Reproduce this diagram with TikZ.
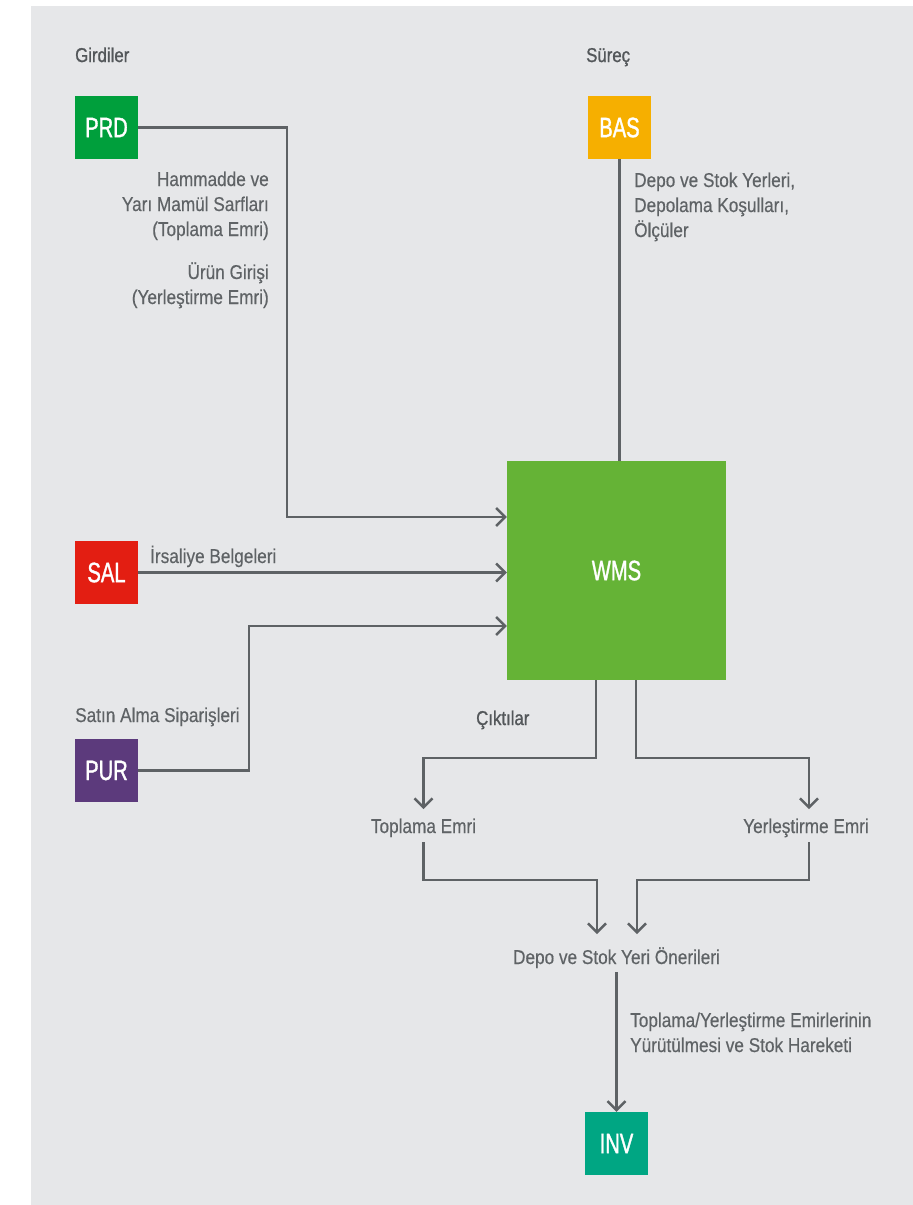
\documentclass[tikz,border=0pt]{standalone}
\usepackage{fontspec}
\setmainfont[FakeStretch=0.86, FakeBold=0.4]{Liberation Sans}
\newfontfamily\headfont[FakeStretch=0.84, FakeBold=1.0]{Liberation Sans}
\newfontfamily\boxfont[FakeStretch=0.72, FakeBold=1.2]{Liberation Sans}
\usetikzlibrary{arrows.meta}
\definecolor{bgcol}{HTML}{E6E7E9}
\definecolor{linecol}{HTML}{5E6265}
\definecolor{txtcol}{HTML}{5F6366}
\definecolor{headcol}{HTML}{53575A}
\definecolor{prdcol}{HTML}{009F3C}
\definecolor{bascol}{HTML}{F6AF00}
\definecolor{salcol}{HTML}{E31E12}
\definecolor{purcol}{HTML}{5C3A7C}
\definecolor{invcol}{HTML}{00A683}
\definecolor{wmscol}{HTML}{65B336}
\tikzset{
  sys/.style={draw=none, minimum width=63pt, minimum height=63pt, inner sep=0pt,
    text=white, font=\boxfont\fontsize{28}{30}\selectfont},
  lbl/.style={inner sep=0pt, text=txtcol, font=\fontsize{20}{25}\selectfont},
  head/.style={inner sep=0pt, text=headcol, font=\headfont\fontsize{20}{25}\selectfont},
  conn/.style={draw=linecol, line width=2.4pt},
  arr/.style={conn, -{Straight Barb[length=9pt, width=18pt, line width=2.4pt]}}
}
\begin{document}
\begin{tikzpicture}[x=1pt, y=-1pt]
\useasboundingbox (0,0) rectangle (913,1205);
\fill[bgcol] (31,6) rectangle (913,1205);

% headings
\node[head, anchor=base west] (girdiler) at (75,62) {Girdiler};
\node[head, anchor=base west] (surec) at (586,62) {Süreç};
\node[head, anchor=base west] (ciktilar) at (476,725) {Çıktılar};

% system boxes
\node[sys, fill=prdcol] (prd) at (106.5,127.5) {PRD};
\node[sys, fill=bascol] (bas) at (619.5,127.5) {BAS};
\node[sys, fill=salcol] (sal) at (106.5,572.5) {SAL};
\node[sys, fill=purcol] (pur) at (106.5,770.5) {PUR};
\node[sys, fill=invcol] (inv) at (616.5,1143.5) {INV};
\node[sys, fill=wmscol, minimum width=219pt, minimum height=219pt] (wms) at (616.5,570.5) {WMS};

% labels (base anchor = baseline of last line)
\node[lbl, anchor=base east, align=right] (hamm) at (269,236) {Hammadde ve\\Yarı Mamül Sarfları\\(Toplama Emri)};
\node[lbl, anchor=base east, align=right] (urun) at (269,304) {Ürün Girişi\\(Yerleştirme Emri)};
\node[lbl, anchor=base west, align=left] (depoyer) at (634,237) {Depo ve Stok Yerleri,\\Depolama Koşulları,\\Ölçüler};
\node[lbl, anchor=base west] (irs) at (150,563) {İrsaliye Belgeleri};
\node[lbl, anchor=base west] (satin) at (75,722) {Satın Alma Siparişleri};
\node[lbl, anchor=base] (toplama) at (423.5,833) {Toplama Emri};
\node[lbl, anchor=base] (yerles) at (806,833) {Yerleştirme Emri};
\node[lbl, anchor=base] (depo) at (616.5,964) {Depo ve Stok Yeri Önerileri};
\node[lbl, anchor=base west, align=left] (yurut) at (630,1052) {Toplama/Yerleştirme Emirlerinin\\Yürütülmesi ve Stok Hareketi};

% connectors
\draw[arr] (prd.east) -- (287,127.5) -- (287,517) -- (wms.west |- 0,517);
\draw[arr] (sal.east) -- (sal.east -| wms.west);
\draw[arr] (pur.east) -- (249,770.5) -- (249,626) -- (wms.west |- 0,626);
\draw[conn] (bas.south) -- (bas.south |- wms.north);

\draw[arr] (596,680) -- (596,758) -- (423.5,758) -- (423.5,809);
\draw[arr] (636,680) -- (636,758) -- (809,758) -- (809,809);

\draw[arr] (423.5,842) -- (423.5,880) -- (597,880) -- (597,934);
\draw[arr] (809,842) -- (809,880) -- (637,880) -- (637,934);

\draw[arr] (616.5,972) -- (inv.north);
\end{tikzpicture}
\end{document}
